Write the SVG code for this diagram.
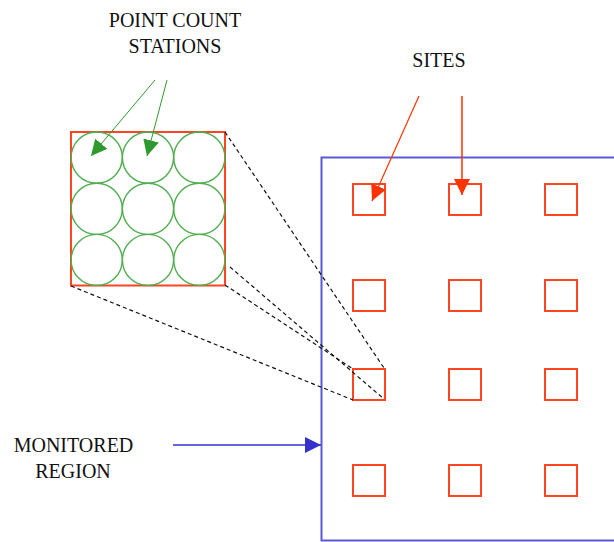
<svg xmlns="http://www.w3.org/2000/svg" width="614" height="542" viewBox="0 0 614 542">
  <style>
    .label { font-family: "Liberation Serif", "Times New Roman", serif; font-size: 20px; fill: #111; text-anchor: middle; }
    .site { fill: none; stroke: #ff4422; stroke-width: 2; }
    .station { fill: none; stroke: #4fae4f; stroke-width: 1.4; }
    .zoomline { fill: none; stroke: #111; stroke-width: 1.2; stroke-dasharray: 4 3; }
  </style>
  <defs>
    <marker id="arrGreen" viewBox="0 0 10 10" refX="10" refY="5" markerWidth="16" markerHeight="16" markerUnits="userSpaceOnUse" orient="auto">
      <path d="M0,0 L10,5 L0,10 Z" fill="#2e9a2e"/>
    </marker>
    <marker id="arrRed" viewBox="0 0 10 10" refX="10" refY="5" markerWidth="16" markerHeight="16" markerUnits="userSpaceOnUse" orient="auto">
      <path d="M0,0 L10,5 L0,10 Z" fill="#ff3300"/>
    </marker>
    <marker id="arrBlue" viewBox="0 0 10 10" refX="10" refY="5" markerWidth="16" markerHeight="16" markerUnits="userSpaceOnUse" orient="auto">
      <path d="M0,0 L10,5 L0,10 Z" fill="#3333cc"/>
    </marker>
  </defs>

  <rect width="614" height="542" fill="#ffffff"/>

  <!-- monitored region -->
  <g id="region">
    <path d="M614,157.5 H321.5 V540.5 H614" fill="none" stroke="#5a5ad8" stroke-width="2"/>
  </g>

  <!-- sites: 3 columns x 4 rows -->
  <g id="sites">
    <rect class="site" x="353" y="184" width="32" height="31"/>
    <rect class="site" x="449" y="184" width="32" height="31"/>
    <rect class="site" x="545" y="184" width="32" height="31"/>
    <rect class="site" x="353" y="280" width="32" height="31"/>
    <rect class="site" x="449" y="280" width="32" height="31"/>
    <rect class="site" x="545" y="280" width="32" height="31"/>
    <rect class="site" x="353" y="369" width="32" height="31"/>
    <rect class="site" x="449" y="369" width="32" height="31"/>
    <rect class="site" x="545" y="369" width="32" height="31"/>
    <rect class="site" x="353" y="465" width="32" height="31"/>
    <rect class="site" x="449" y="465" width="32" height="31"/>
    <rect class="site" x="545" y="465" width="32" height="31"/>
  </g>

  <!-- enlarged site with point count stations -->
  <g id="site-detail">
    <rect x="71" y="132" width="154" height="153.5" fill="none" stroke="#ff4422" stroke-width="2"/>
    <circle class="station" cx="96.7" cy="157.6" r="25.6"/>
    <circle class="station" cx="148" cy="157.6" r="25.6"/>
    <circle class="station" cx="199.3" cy="157.6" r="25.6"/>
    <circle class="station" cx="96.7" cy="208.8" r="25.6"/>
    <circle class="station" cx="148" cy="208.8" r="25.6"/>
    <circle class="station" cx="199.3" cy="208.8" r="25.6"/>
    <circle class="station" cx="96.7" cy="260" r="25.6"/>
    <circle class="station" cx="148" cy="260" r="25.6"/>
    <circle class="station" cx="199.3" cy="260" r="25.6"/>
  </g>

  <!-- labels -->
  <g id="label-stations">
    <text class="label" x="175" y="27">POINT COUNT</text>
    <text class="label" x="175" y="53">STATIONS</text>
  </g>
  <g id="label-sites">
    <text class="label" x="439" y="67">SITES</text>
  </g>
  <g id="label-region">
    <text class="label" x="73.5" y="452">MONITORED</text>
    <text class="label" x="73" y="478">REGION</text>
  </g>

  <!-- connectors -->
  <g id="connectors">
    <line class="zoomline" x1="225" y1="132" x2="384" y2="368"/>
    <line class="zoomline" x1="230" y1="267" x2="384" y2="399"/>
    <line class="zoomline" x1="225" y1="285" x2="353" y2="369"/>
    <line class="zoomline" x1="71" y1="286" x2="353" y2="400"/>

    <line x1="155" y1="80" x2="91" y2="156" stroke="#2e9a2e" stroke-width="1" marker-end="url(#arrGreen)"/>
    <line x1="167" y1="80" x2="147" y2="156" stroke="#2e9a2e" stroke-width="1" marker-end="url(#arrGreen)"/>

    <line x1="419" y1="96" x2="372" y2="201" stroke="#ff3300" stroke-width="1.2" marker-end="url(#arrRed)"/>
    <line x1="462" y1="96" x2="462" y2="195" stroke="#ff3300" stroke-width="1.5" marker-end="url(#arrRed)"/>

    <line x1="173" y1="445" x2="321" y2="445" stroke="#3333cc" stroke-width="1.5" marker-end="url(#arrBlue)"/>
  </g>
</svg>
